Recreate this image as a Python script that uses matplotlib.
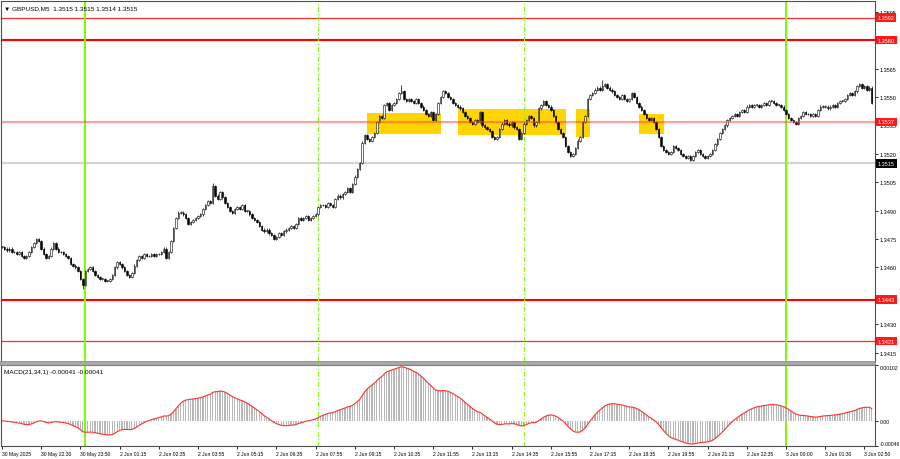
import matplotlib
matplotlib.use("Agg")
import matplotlib.pyplot as plt
import numpy as np
import pandas as pd
from matplotlib.patches import Rectangle

# GBPUSD M5 closes, in pips above 1.3400, one value per bar
CLOSE_PIPS = [
    71, 70, 69, 70, 68, 68, 67, 68, 66, 65, 66, 68, 71, 73, 75, 74,
    70, 67, 65, 66, 70, 73, 70, 68, 68, 67, 66, 65, 62, 61, 60, 58,
    54, 51, 58, 59, 60, 58, 56, 55, 54, 54, 53, 53, 54, 56, 60, 63,
    62, 60, 58, 56, 55, 57, 61, 64, 66, 65, 67, 66, 66, 67, 66, 67,
    67, 68, 70, 65, 68, 74, 81, 86, 89, 89, 88, 86, 83, 84, 85, 86,
    87, 88, 91, 93, 95, 94, 103, 98, 96, 100, 97, 94, 92, 90, 89, 91,
    92, 91, 93, 90, 90, 88, 86, 85, 84, 82, 80, 79, 80, 78, 77, 75,
    76, 78, 77, 79, 80, 81, 82, 81, 83, 86, 85, 86, 87, 85, 86, 87,
    88, 92, 93, 93, 92, 94, 93, 92, 96, 98, 97, 99, 100, 102, 100, 104,
    108, 112, 115, 126, 130, 128, 127, 129, 131, 137, 140, 139, 146, 147, 143, 146,
    147, 149, 152, 153, 149, 148, 149, 148, 147, 149, 147, 145, 143, 141, 140, 142,
    138, 141, 147, 150, 153, 152, 150, 149, 147, 146, 145, 144, 142, 140, 139, 137,
    136, 138, 137, 142, 135, 134, 133, 132, 129, 128, 129, 133, 136, 138, 136, 135,
    137, 134, 133, 128, 131, 136, 138, 140, 139, 135, 137, 144, 146, 148, 146, 145,
    143, 140, 137, 133, 131, 129, 124, 121, 119, 120, 123, 127, 129, 137, 140, 149,
    151, 152, 154, 155, 154, 156, 157, 155, 154, 153, 151, 150, 149, 151, 149, 148,
    149, 152, 150, 147, 145, 143, 141, 139, 138, 139, 137, 133, 129, 124, 122, 121,
    120, 121, 124, 123, 122, 120, 119, 118, 119, 117, 119, 121, 122, 120, 119, 118,
    119, 120, 122, 125, 128, 131, 133, 135, 138, 139, 140, 141, 140, 142, 143, 142,
    145, 146, 145, 146, 146, 145, 146, 147, 146, 148, 148, 147, 146, 146, 145, 143,
    141, 139, 138, 137, 136, 139, 140, 142, 141, 141, 140, 141, 140, 143, 145, 145,
    145, 144, 145, 146, 145, 147, 148, 148, 149, 151, 152, 151, 153, 156, 157, 155,
    156, 154, 155, 147,
]
FIRST_OPEN_PIPS = 71
SPIKE_LOWS = {33: 48.5}
SPIKE_HIGHS = {86: 104.5, 163: 156.5, 245: 159}

TIME_LABELS = [
    "30 May 2025", "30 May 22:30", "30 May 23:50", "2 Jun 01:15", "2 Jun 02:35",
    "2 Jun 03:55", "2 Jun 05:15", "2 Jun 06:35", "2 Jun 07:55", "2 Jun 09:15",
    "2 Jun 10:35", "2 Jun 11:55", "2 Jun 13:15", "2 Jun 14:35", "2 Jun 15:55",
    "2 Jun 17:15", "2 Jun 18:35", "2 Jun 19:55", "2 Jun 21:15", "2 Jun 22:35",
    "3 Jun 00:00", "3 Jun 01:30", "3 Jun 02:50",
]
PRICE_TICKS = [1.3415, 1.3430, 1.3445, 1.3460, 1.3475, 1.3490, 1.3505,
               1.3520, 1.3535, 1.3550, 1.3565, 1.3595]

# support / resistance levels
STRONG_LEVELS = [1.3580, 1.3443]
WEAK_LEVELS = [1.3592, 1.3421]
PIVOT_LEVEL = 1.3537
BID = 1.3515

# areas where price worked around 1.3537 (bar index start/end, price low/high)
ZONE_START = [149, 186.3, 234.2, 260.1]
ZONE_END = [179, 230, 240.1, 270.2]
ZONE_LOW = [1.35303, 1.35300, 1.35290, 1.35305]
ZONE_HIGH = [1.35416, 1.35436, 1.35437, 1.35412]

DAY_BREAKS = [34, 320]
SESSION_BREAKS = [129, 213]

MACD_TOP = 0.00102
MACD_BOTTOM = -0.00046

closes = 1.34 + np.array(CLOSE_PIPS) / 10000
opens = np.concatenate([[1.34 + FIRST_OPEN_PIPS / 10000], closes[:-1]])
highs = np.maximum(opens, closes) + 0.00006
lows = np.minimum(opens, closes) - 0.00006
for i, v in SPIKE_LOWS.items():
    lows[i] = 1.34 + v / 10000
for i, v in SPIKE_HIGHS.items():
    highs[i] = 1.34 + v / 10000
bars = np.arange(len(closes))

s = pd.Series(closes)
macd = (s.ewm(span=21, adjust=False).mean() - s.ewm(span=34, adjust=False).mean()).values

plt.rcParams["font.family"] = ["Liberation Sans", "DejaVu Sans"]

W, H = 900, 460
fig = plt.figure(figsize=(9, 4.6), dpi=100)
fig.patch.set_facecolor("white")
ax = fig.add_axes([1 / W, 1 - 362 / H, 874 / W, 360 / H])
ax2 = fig.add_axes([1 / W, 1 - 447 / H, 874 / W, 81 / H])
fig.patches.append(Rectangle((0, 1 - 366 / H), 875 / W, 4 / H, transform=fig.transFigure,
                             facecolor="#a8a8a8", edgecolor="#808080", lw=0.5))

xlim = (-1 / 2.45, 873 / 2.45)

# price panel
for x0, x1, lo, hi in zip(ZONE_START, ZONE_END, ZONE_LOW, ZONE_HIGH):
    ax.add_patch(Rectangle((x0, lo), x1 - x0, hi - lo, facecolor="#ffd400",
                           edgecolor="none", zorder=1))

ax.axhline(BID, color="#d4d4d4", lw=1.6, zorder=2)
for lv in STRONG_LEVELS:
    ax.axhline(lv, color="#ff0000", lw=1.5, zorder=2)
for lv in WEAK_LEVELS:
    ax.axhline(lv, color="#f03030", lw=0.9, zorder=2)

for b in DAY_BREAKS:
    for a in (ax, ax2):
        a.axvline(b, color="#7cfc00", lw=1.4, zorder=2)
for b in SESSION_BREAKS:
    for a in (ax, ax2):
        a.axvline(b, color="#7cfc00", lw=0.8, ls=(0, (4, 2, 1, 2)), zorder=2)

ax.vlines(bars, lows, highs, color="black", lw=0.5, zorder=3)
up = closes >= opens
body = np.maximum(np.abs(closes - opens), 0.00002)
ax.bar(bars[up], body[up], bottom=opens[up], width=0.6, color="white",
       edgecolor="black", lw=0.4, zorder=4)
ax.bar(bars[~up], body[~up], bottom=closes[~up], width=0.6, color="black",
       edgecolor="black", lw=0.4, zorder=4)

ax.axhline(PIVOT_LEVEL, color="#ff4040", lw=1.5, alpha=0.5, zorder=5)

ax.set_xlim(*xlim)
ax.set_ylim(1.341059, 1.360076)
ax.set_xticks([])
ax.yaxis.tick_right()
ax.set_yticks(PRICE_TICKS)
ax.set_yticklabels([f"{p:.4f}" for p in PRICE_TICKS])
ax.tick_params(axis="y", length=2, width=0.6, pad=1.5, labelsize=4.0, colors="black")
for sp in ax.spines.values():
    sp.set_color("#505050")
    sp.set_linewidth(0.8)
ax.spines["bottom"].set_visible(False)

ax.text(0.004, 0.988, "\u25bc GBPUSD,M5  1.3515 1.3515 1.3514 1.3515", transform=ax.transAxes,
        fontsize=4.6, va="top", ha="left", family=["Liberation Sans", "DejaVu Sans"])

for lv in STRONG_LEVELS + WEAK_LEVELS + [PIVOT_LEVEL]:
    ax.annotate(f"{lv:.4f}", xy=(1, lv), xycoords=("axes fraction", "data"),
                xytext=(2.2, 0), textcoords="offset points", va="center", ha="left",
                fontsize=4.0, color="white", annotation_clip=False, zorder=10,
                bbox=dict(boxstyle="square,pad=0.3", fc="#ff1a1a", ec="none"))
ax.annotate(f"{BID:.4f}", xy=(1, BID), xycoords=("axes fraction", "data"),
            xytext=(2.2, 0), textcoords="offset points", va="center", ha="left",
            fontsize=4.0, color="white", annotation_clip=False, zorder=10,
            bbox=dict(boxstyle="square,pad=0.3", fc="black", ec="none"))

# MACD panel
ax2.bar(bars, macd, width=0.5, color="#b8b8b8", zorder=3)
ax2.plot(bars, macd, color="#ff3030", lw=0.8, zorder=4)
ax2.set_xlim(*xlim)
ax2.set_ylim(MACD_BOTTOM, MACD_TOP)
ax2.yaxis.tick_right()
ax2.set_yticks([MACD_BOTTOM, 0, MACD_TOP])
ax2.set_yticklabels(["-0.00046", "0.00", "0.00102"])
ax2.tick_params(axis="y", length=2, width=0.6, pad=1.2, labelsize=3.7)
ax2.get_yticklabels()[0].set_va("bottom")
ax2.get_yticklabels()[2].set_va("top")
ax2.set_xticks(np.arange(len(TIME_LABELS)) * 16)
ax2.set_xticklabels(TIME_LABELS, ha="left")
ax2.tick_params(axis="x", length=2, width=0.6, pad=1.5, labelsize=3.6)
for sp in ax2.spines.values():
    sp.set_color("#505050")
    sp.set_linewidth(0.8)
ax2.text(0.004, 0.95, "MACD(21,34,1) -0.00041 -0.00041", transform=ax2.transAxes,
         fontsize=4.6, va="top", ha="left")

fig.savefig("out.png", dpi=100, facecolor="white")
